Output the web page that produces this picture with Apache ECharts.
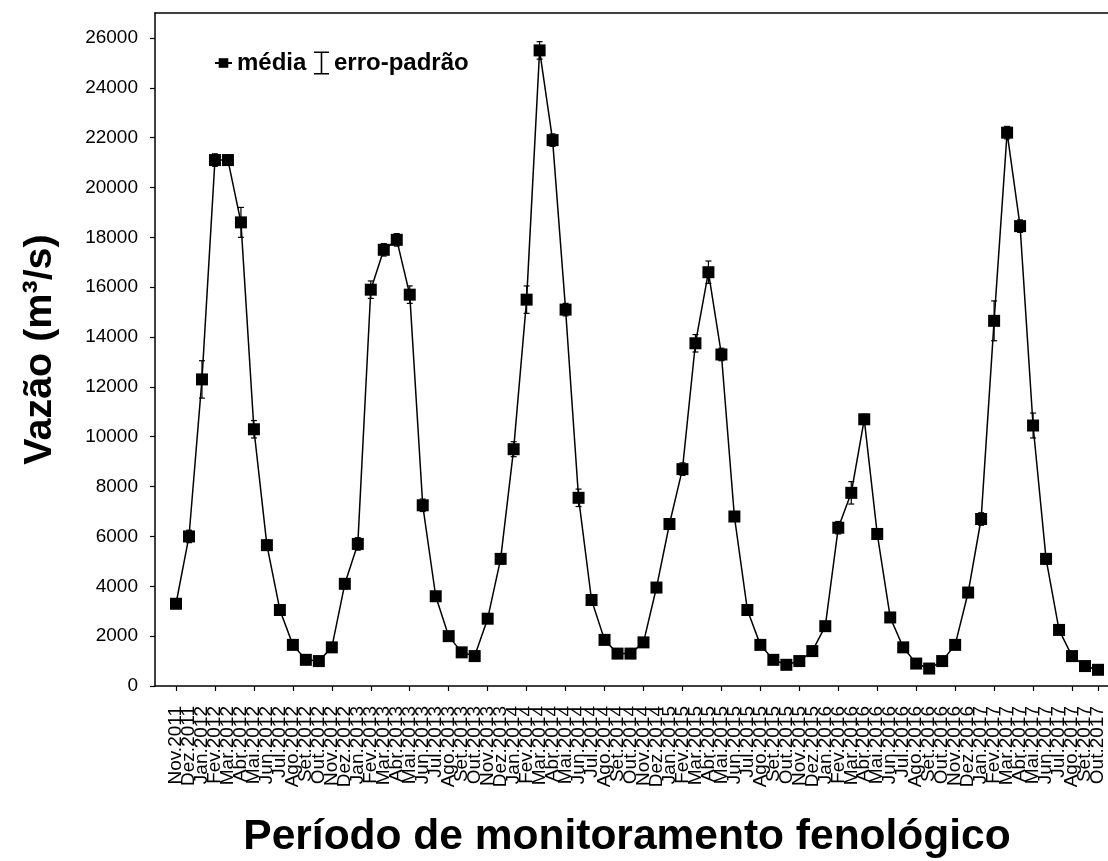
<!DOCTYPE html>
<html>
<head>
<meta charset="utf-8">
<script src="https://cdn.jsdelivr.net/npm/echarts@6/dist/echarts.min.js"></script>
<style>html,body{margin:0;padding:0;background:#fff}#c{width:1108px;height:861px}</style>
</head>
<body>
<div id="c"></div>
<script>
var categories = [
  'Nov.2011','Dez.2011',
  'Jan.2012','Fev.2012','Mar.2012','Abr.2012','Mai.2012','Jun.2012','Jul.2012','Ago.2012','Set.2012','Out.2012','Nov.2012','Dez.2012',
  'Jan.2013','Fev.2013','Mar.2013','Abr.2013','Mai.2013','Jun.2013','Jul.2013','Ago.2013','Set.2013','Out.2013','Nov.2013','Dez.2013',
  'Jan.2014','Fev.2014','Mar.2014','Abr.2014','Mai.2014','Jun.2014','Jul.2014','Ago.2014','Set.2014','Out.2014','Nov.2014','Dez.2014',
  'Jan.2015','Fev.2015','Mar.2015','Abr.2015','Mai.2015','Jun.2015','Jul.2015','Ago.2015','Set.2015','Out.2015','Nov.2015','Dez.2015',
  'Jan.2016','Fev.2016','Mar.2016','Abr.2016','Mai.2016','Jun.2016','Jul.2016','Ago.2016','Set.2016','Out.2016','Nov.2016','Dez.2016',
  'Jan.2017','Fev.2017','Mar.2017','Abr.2017','Mai.2017','Jun.2017','Jul.2017','Ago.2017','Set.2017','Out.2017'
];
var media = [
  3300, 6000,
  12300, 21100, 21100, 18600, 10300, 5650, 3050, 1650, 1050, 1000, 1550, 4100,
  5700, 15900, 17500, 17900, 15700, 7250, 3600, 2000, 1350, 1200, 2700, 5100,
  9500, 15500, 25500, 21900, 15100, 7550, 3450, 1850, 1300, 1300, 1750, 3950,
  6500, 8700, 13750, 16600, 13300, 6800, 3050, 1650, 1050, 850, 1000, 1400,
  2400, 6350, 7750, 10700, 6100, 2750, 1550, 900, 700, 1000, 1650, 3750,
  6700, 14650, 22200, 18450, 10450, 5100, 2250, 1200, 800, 650
];
var erroPadrao = [
  150, 250,
  750, 250, 200, 600, 350, 200, 120, 80, 50, 50, 100, 200,
  250, 350, 250, 250, 350, 250, 150, 80, 60, 60, 150, 200,
  300, 550, 350, 250, 250, 350, 150, 80, 60, 60, 100, 200,
  200, 250, 350, 450, 250, 200, 120, 80, 50, 40, 50, 80,
  150, 250, 450, 200, 200, 150, 80, 50, 40, 50, 100, 200,
  250, 800, 250, 250, 500, 200, 120, 60, 40, 30
];
var yTicks = { min: 0, max: 27000, interval: 2000 };
var legendNames = ['média', 'erro-padrão'];

var FONT = '"Liberation Sans", Arial, sans-serif';
var errData = media.map(function (v, i) { return [i, v - erroPadrao[i], v + erroPadrao[i]]; });
var legendText = { fontFamily: FONT, fontSize: 24, fontWeight: 'bold', color: '#000' };
var blackLine = { color: '#000', width: 1.5 };

var chart = echarts.init(document.getElementById('c'), null, { renderer: 'canvas' });
chart.setOption({
  animation: false,
  backgroundColor: '#fff',
  textStyle: { fontFamily: FONT },
  legend: [{
    left: 209, top: 46,
    itemWidth: 17, itemHeight: 12,
    textStyle: legendText,
    data: [{ name: legendNames[0] }]
  }, {
    left: 309, top: 46,
    itemWidth: 15, itemHeight: 23,
    textStyle: legendText,
    data: [{ name: legendNames[1], icon: 'path://M0,0H15V1.6H8.3V21.4H15V23H0V21.4H6.7V1.6H0Z', itemStyle: { color: '#000' } }]
  }],
  grid: [
    { left: 176, top: 13, width: 922, bottom: 175, outerBoundsMode: 'none', containLabel: false },
    { left: 155, top: 13, width: 964, bottom: 175, outerBoundsMode: 'none', containLabel: false }
  ],
  xAxis: [{
    gridIndex: 0,
    type: 'category', data: categories, boundaryGap: false,
    axisLine: { show: false },
    axisTick: { show: true, interval: 2, length: 5, lineStyle: { color: '#000', width: 1.2 } },
    axisLabel: { interval: 0, rotate: 90, margin: 20, fontSize: 19, color: '#000', fontFamily: FONT },
    splitLine: { show: false }
  }, {
    gridIndex: 1, type: 'value', min: 0, max: 1, position: 'bottom',
    name: 'Período de monitoramento fenológico',
    nameLocation: 'middle', nameGap: 130,
    nameTextStyle: { fontFamily: FONT, fontSize: 42.5, fontWeight: 'bold', color: '#000', padding: [0, 20, 0, 0] },
    axisLine: { show: true, onZero: false, lineStyle: blackLine },
    axisTick: { show: false }, axisLabel: { show: false }, splitLine: { show: false }
  }, {
    gridIndex: 1, type: 'value', min: 0, max: 1, position: 'top',
    axisLine: { show: true, onZero: false, lineStyle: blackLine },
    axisTick: { show: false }, axisLabel: { show: false }, splitLine: { show: false }
  }],
  yAxis: [{
    gridIndex: 0,
    type: 'value', min: yTicks.min, max: yTicks.max, interval: yTicks.interval,
    offset: 21,
    name: 'Vazão (m³/s)', nameLocation: 'middle', nameGap: 95,
    nameTextStyle: { fontFamily: FONT, fontSize: 39.5, fontWeight: 'bold', color: '#000' },
    axisLine: { show: true, onZero: false, lineStyle: blackLine },
    axisTick: { show: true, length: 5, lineStyle: { color: '#000', width: 1.2 } },
    axisLabel: {
      showMaxLabel: false, margin: 17, fontSize: 19, color: '#000', fontFamily: FONT,
      formatter: function (v) { return String(v); }
    },
    splitLine: { show: false }
  }, {
    gridIndex: 1, type: 'value', min: 0, max: 1, show: false
  }],
  series: [{
    name: legendNames[1],
    type: 'custom',
    xAxisIndex: 0, yAxisIndex: 0,
    data: errData,
    encode: { x: 0, y: [1, 2] },
    itemStyle: { color: '#000' },
    z: 2,
    renderItem: function (params, api) {
      var x = api.value(0);
      var lo = api.coord([x, api.value(1)]);
      var hi = api.coord([x, api.value(2)]);
      var w = 3;
      var st = { stroke: '#000', lineWidth: 1.2 };
      return {
        type: 'group',
        children: [
          { type: 'line', shape: { x1: lo[0], y1: lo[1], x2: hi[0], y2: hi[1] }, style: st },
          { type: 'line', shape: { x1: lo[0] - w, y1: lo[1], x2: lo[0] + w, y2: lo[1] }, style: st },
          { type: 'line', shape: { x1: hi[0] - w, y1: hi[1], x2: hi[0] + w, y2: hi[1] }, style: st }
        ]
      };
    }
  }, {
    name: legendNames[0],
    type: 'line',
    xAxisIndex: 0, yAxisIndex: 0,
    data: media,
    z: 3,
    symbol: 'rect',
    symbolSize: 12,
    showAllSymbol: true,
    lineStyle: { color: '#000', width: 1.5 },
    itemStyle: { color: '#000', borderWidth: 0 }
  }]
});
</script>
</body>
</html>
